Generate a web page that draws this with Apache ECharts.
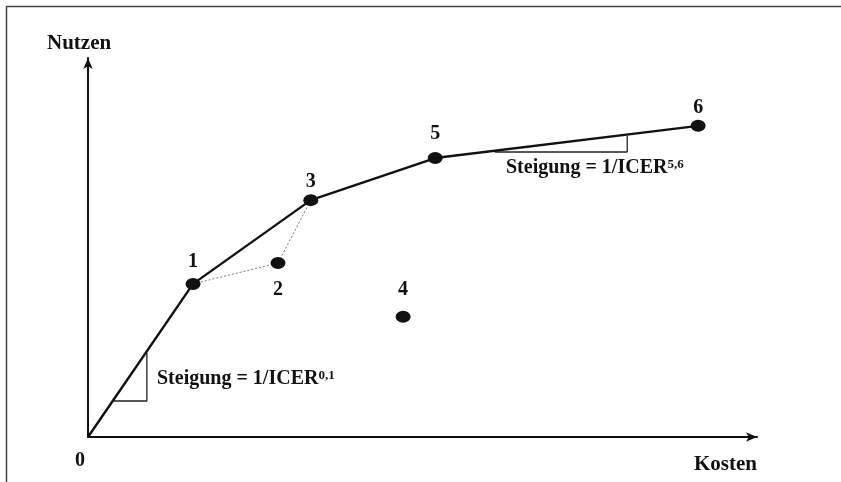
<!DOCTYPE html>
<html>
<head>
<meta charset="utf-8">
<script src="https://cdn.jsdelivr.net/npm/echarts@6/dist/echarts.min.js"></script>
<style>
  html, body { margin: 0; padding: 0; background: #fff; }
  #chart { width: 841px; height: 482px; }
</style>
</head>
<body>
<div id="chart"></div>
<script>
// alternatives: costs (x) and benefits (y)
var pointNames = ['0', '1', '2', '3', '4', '5', '6']
var costs = [0, 15.7, 28.4, 33.3, 47.1, 51.9, 91.2]
var benefits = [0, 40.4, 45.9, 62.5, 31.7, 73.6, 82.1]

// efficient frontier and the dominated detour via 2
var frontierIdx = [0, 1, 3, 5, 6]
var detourIdx = [1, 2, 3]

// slope triangles
var slopeA = [[3.7, 9.5], [8.8, 9.5], [8.8, 22.2]]
var slopeB = [[60.8, 75.2], [80.6, 75.2], [80.6, 79.4]]

var font = '"Liberation Serif", "DejaVu Serif", serif'

function pts(idx) {
  return idx.map(function (i) { return [costs[i], benefits[i]] })
}

// label offsets for point numbers
var labelOffset = {
  '0': [-8, 24], '1': [0, -22], '2': [0, 27], '3': [0, -18],
  '4': [0, -27], '5': [0, -24], '6': [0, -18]
}

var chart = echarts.init(document.getElementById('chart'))

var scatterData = pointNames.map(function (n, i) {
  return {
    value: [costs[i], benefits[i]],
    name: n,
    symbolSize: i === 0 ? 0 : [15, 12],
    label: { offset: labelOffset[n] }
  }
})

var sup = {
  b: { font: 'bold 20px ' + font, fill: '#111' },
  s: { font: 'bold 13px ' + font, fill: '#111', padding: [0, 0, 7, 0] }
}

chart.setOption({
  animation: false,
  grid: { left: 88, right: 84, top: 58, bottom: 45 },
  xAxis: {
    type: 'value', min: 0, max: 100,
    splitLine: { show: false }, axisTick: { show: false }, axisLabel: { show: false },
    axisLine: { lineStyle: { color: '#111', width: 2 }, symbol: ['none', 'arrow'], symbolSize: [7, 11] }
  },
  yAxis: {
    type: 'value', min: 0, max: 100,
    splitLine: { show: false }, axisTick: { show: false }, axisLabel: { show: false },
    axisLine: { lineStyle: { color: '#111', width: 2 }, symbol: ['none', 'arrow'], symbolSize: [7, 11] }
  },
  graphic: [
    {
      type: 'rect', left: 4, top: 4, silent: true,
      shape: { width: 850, height: 490 },
      style: { fill: 'none', stroke: '#444', lineWidth: 1.5 }
    },
    {
      type: 'text', left: 47, top: 33,
      style: { text: 'Nutzen', font: 'bold 21px ' + font, fill: '#111' }
    },
    {
      type: 'text', left: 694, top: 454,
      style: { text: 'Kosten', font: 'bold 21px ' + font, fill: '#111' }
    },
    {
      type: 'text', left: 157, top: 369,
      style: { text: '{b|Steigung = 1/ICER}{s|0,1}', rich: sup }
    },
    {
      type: 'text', left: 506, top: 158,
      style: { text: '{b|Steigung = 1/ICER}{s|5,6}', rich: sup }
    }
  ],
  series: [
    {
      type: 'line', data: pts(frontierIdx), symbol: 'none',
      lineStyle: { color: '#111', width: 2.4 }, z: 2
    },
    {
      type: 'line', data: pts(detourIdx), symbol: 'none',
      lineStyle: { color: '#777', width: 1, type: [2, 2] }, z: 1
    },
    {
      type: 'line', data: slopeA, symbol: 'none',
      lineStyle: { color: '#222', width: 1.3 }, z: 1
    },
    {
      type: 'line', data: slopeB, symbol: 'none',
      lineStyle: { color: '#222', width: 1.3 }, z: 1
    },
    {
      type: 'scatter', data: scatterData, z: 3,
      itemStyle: { color: '#111', opacity: 1 },
      label: {
        show: true, position: 'inside', formatter: '{b}',
        color: '#111', fontFamily: font, fontWeight: 'bold', fontSize: 20
      }
    }
  ]
})
</script>
</body>
</html>
